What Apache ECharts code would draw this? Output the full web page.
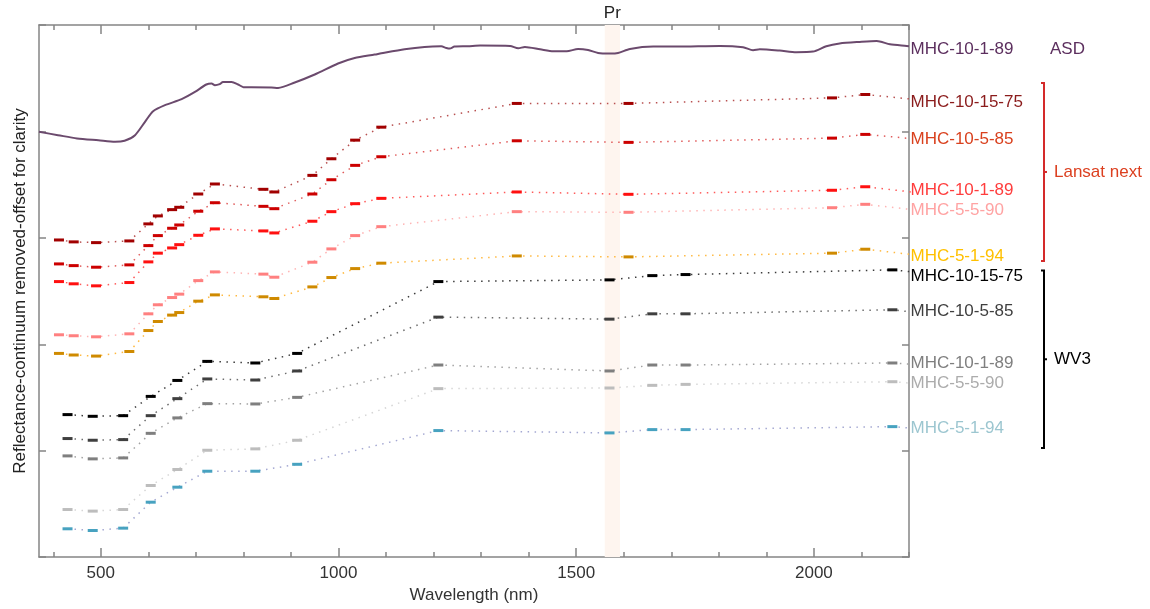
<!DOCTYPE html>
<html>
<head>
<meta charset="utf-8">
<script src="https://cdn.jsdelivr.net/npm/echarts@6/dist/echarts.min.js"></script>
<style>
  html, body { margin: 0; padding: 0; background: #fff; }
  #chart { width: 1150px; height: 609px; }
</style>
</head>
<body>
<div id="chart"></div>
<script>
// ---- data -------------------------------------------------------------
// ASD full-resolution spectrum (MHC-10-1-89), offset for clarity
const asdWavelength = [370, 410, 450, 495, 530, 550, 572, 593, 610, 635, 670, 698, 722, 733, 740, 750, 757, 775, 789, 800,
  817, 859, 873, 908, 950, 999, 1034, 1076, 1090, 1139, 1181, 1216, 1227, 1234, 1244, 1272, 1298, 1361, 1378, 1392,
  1424, 1452, 1480, 1504, 1525, 1546, 1571, 1588, 1613, 1662, 1711, 1802, 1851, 1872, 1886, 1928, 1963, 1998, 2026, 2054,
  2096, 2132, 2160, 2195, 2200];
const asdReflectance = [3.996, 3.965, 3.934, 3.916, 3.902, 3.912, 3.965, 4.090, 4.190, 4.247, 4.303, 4.371, 4.441, 4.450, 4.434, 4.444, 4.465, 4.465, 4.441, 4.416,
  4.416, 4.413, 4.409, 4.460, 4.535, 4.638, 4.690, 4.722, 4.734, 4.772, 4.794, 4.800, 4.784, 4.779, 4.797, 4.800, 4.807, 4.803, 4.781, 4.794,
  4.772, 4.753, 4.753, 4.775, 4.765, 4.737, 4.732, 4.737, 4.775, 4.797, 4.797, 4.803, 4.791, 4.763, 4.772, 4.760, 4.744, 4.750, 4.800, 4.826,
  4.841, 4.850, 4.819, 4.803, 4.800];

// Band centres (nm)
const landsatBands = [412, 443, 490, 560, 600, 620, 650, 665, 705, 740, 842, 865, 945, 985, 1035, 1090, 1375, 1610, 2038, 2108, 2211];
const wv3Bands = [430, 483, 547, 605, 661, 724, 825, 913, 1210, 1570, 1660, 1730, 2165, 2205];

const sampleNames = ['MHC-10-15-75', 'MHC-10-5-85', 'MHC-10-1-89', 'MHC-5-5-90', 'MHC-5-1-94'];

// Landsat Next simulated reflectance (continuum removed, offset)
const landsat_10_15_75 = [2.980, 2.962, 2.955, 2.971, 3.131, 3.206, 3.265, 3.287, 3.412, 3.506, 3.456, 3.431, 3.587, 3.743, 3.918, 4.040, 4.263, 4.263, 4.315, 4.347, 4.301];
const landsat_10_5_85 = [2.755, 2.739, 2.724, 2.746, 2.927, 3.021, 3.090, 3.121, 3.250, 3.330, 3.296, 3.274, 3.412, 3.546, 3.681, 3.762, 3.912, 3.897, 3.937, 3.972, 3.930];
const landsat_10_1_89 = [2.589, 2.568, 2.549, 2.580, 2.774, 2.856, 2.905, 2.936, 3.024, 3.084, 3.065, 3.046, 3.156, 3.246, 3.321, 3.371, 3.431, 3.409, 3.447, 3.480, 3.428];
const landsat_5_5_90 = [2.089, 2.080, 2.070, 2.098, 2.286, 2.371, 2.439, 2.471, 2.598, 2.680, 2.659, 2.630, 2.771, 2.896, 3.021, 3.105, 3.246, 3.240, 3.283, 3.315, 3.263];
const landsat_5_1_94 = [1.914, 1.899, 1.889, 1.932, 2.129, 2.214, 2.274, 2.298, 2.405, 2.464, 2.446, 2.430, 2.539, 2.627, 2.711, 2.762, 2.830, 2.821, 2.856, 2.893, 2.841];

// WorldView-3 simulated reflectance (continuum removed, offset)
const wv3_10_15_75 = [1.339, 1.323, 1.329, 1.510, 1.660, 1.839, 1.824, 1.914, 2.589, 2.605, 2.645, 2.655, 2.699, 2.681];
const wv3_10_5_85 = [1.114, 1.098, 1.104, 1.329, 1.489, 1.674, 1.664, 1.749, 2.255, 2.236, 2.286, 2.286, 2.324, 2.303];
const wv3_10_1_89 = [0.951, 0.923, 0.932, 1.163, 1.308, 1.442, 1.439, 1.501, 1.805, 1.749, 1.805, 1.805, 1.824, 1.813];
const wv3_5_5_90 = [0.447, 0.432, 0.447, 0.673, 0.823, 1.004, 1.017, 1.098, 1.583, 1.589, 1.614, 1.623, 1.648, 1.634];
const wv3_5_1_94 = [0.266, 0.250, 0.272, 0.516, 0.657, 0.807, 0.807, 0.872, 1.189, 1.167, 1.198, 1.198, 1.226, 1.212];

// Right-hand label heights (axis units)
const asdLabelY = 4.769;
const landsatLabelY = [4.272, 3.925, 3.449, 3.262, 2.830];
const wv3LabelY = [2.636, 2.314, 1.824, 1.636, 1.214];

// Axis settings
const xMin = 370, xMax = 2200;
const majorTicks = [500, 1000, 1500, 2000];
const minorTicks = [400, 500, 600, 700, 800, 900, 1000, 1100, 1200, 1300, 1400, 1500, 1600, 1700, 1800, 1900, 2000, 2100, 2200];
const prBand = [1560, 1592];

// ---- styles -----------------------------------------------------------
const FONT = '"Liberation Sans", Arial, Helvetica, sans-serif';
const axisGrey = { color: '#858585', width: 1.5 };

const landsatStyle = [
  { mark: '#a10000', dot: '#b85050', label: '#8b1c1c' },
  { mark: '#cc0000', dot: '#e05a5a', label: '#d9411e' },
  { mark: '#ff1010', dot: '#ff5a5a', label: '#ff3d3d' },
  { mark: '#ff8080', dot: '#ffb4b4', label: '#ffa3a3' },
  { mark: '#cf8a00', dot: '#ffb940', label: '#ffc000' }
];
const wv3Style = [
  { mark: '#000000', dot: '#3c3c3c', label: '#000000' },
  { mark: '#3f3f3f', dot: '#6e6e6e', label: '#3f3f3f' },
  { mark: '#7f7f7f', dot: '#a2a2a2', label: '#7f7f7f' },
  { mark: '#bdbdbd', dot: '#d6d6d6', label: '#acacac' },
  { mark: '#47a2c0', dot: '#a4a8d2', label: '#9cc6d0' }
];

const landsatValues = [landsat_10_15_75, landsat_10_5_85, landsat_10_1_89, landsat_5_5_90, landsat_5_1_94];
const wv3Values = [wv3_10_15_75, wv3_10_5_85, wv3_10_1_89, wv3_5_5_90, wv3_5_1_94];

function bandSeries(id, bands, values, st) {
  return {
    id: id,
    type: 'line',
    data: bands.map((b, i) => [b, values[i]]),
    symbol: 'rect',
    symbolSize: [10, 3],
    showSymbol: true,
    clip: true,
    z: 4,
    itemStyle: { color: st.mark },
    lineStyle: { color: st.dot, width: 1.5, type: [1.5, 5.5], cap: 'butt' },
    emphasis: { disabled: true }
  };
}

const series = [
  {
    id: 'asd',
    type: 'line',
    data: asdWavelength.map((w, i) => [w, asdReflectance[i]]),
    showSymbol: false,
    smooth: 0.25,
    clip: true,
    z: 3,
    lineStyle: { color: '#6b4a6d', width: 2 },
    emphasis: { disabled: true },
    markArea: {
      silent: true,
      z: 1,
      itemStyle: { color: '#fef5ef', opacity: 1 },
      label: { show: true, position: 'top', distance: 3, formatter: 'Pr', fontSize: 17, color: '#222', fontFamily: FONT },
      data: [[{ xAxis: prBand[0] }, { xAxis: prBand[1] }]]
    }
  }
];
landsatValues.forEach((v, i) => series.push(bandSeries('landsat' + i, landsatBands, v, landsatStyle[i])));
wv3Values.forEach((v, i) => series.push(bandSeries('wv3' + i, wv3Bands, v, wv3Style[i])));

function xAxisDef(position, ticks, tickLen, withLine, withLabel) {
  return {
    type: 'value', min: xMin, max: xMax, position: position,
    axisLine: { show: withLine, onZero: false, lineStyle: axisGrey },
    axisTick: { show: true, inside: true, length: tickLen, customValues: ticks, lineStyle: axisGrey },
    axisLabel: withLabel
      ? { show: true, customValues: majorTicks, formatter: (v) => String(v), fontSize: 17, color: '#333', margin: 8, fontFamily: FONT }
      : { show: false },
    splitLine: { show: false }
  };
}

const xAxes = [
  Object.assign(xAxisDef('bottom', majorTicks, 9, true, true), {
    name: 'Wavelength (nm)', nameLocation: 'middle', nameGap: 27,
    nameTextStyle: { fontSize: 17, color: '#333', fontFamily: FONT }
  }),
  xAxisDef('bottom', minorTicks, 5, false, false),
  xAxisDef('top', majorTicks, 9, true, false),
  xAxisDef('top', minorTicks, 5, false, false)
];

function yAxisDef(position) {
  return {
    type: 'value', min: 0, max: 5, interval: 1, position: position,
    axisLine: { show: true, onZero: false, lineStyle: axisGrey },
    axisTick: { show: true, inside: true, length: 7, lineStyle: axisGrey },
    axisLabel: { show: false },
    splitLine: { show: false }
  };
}

const chart = echarts.init(document.getElementById('chart'), null, { renderer: 'canvas' });
chart.setOption({
  animation: false,
  backgroundColor: '#ffffff',
  textStyle: { fontFamily: FONT },
  grid: { left: 39, right: 241, top: 25, bottom: 51, containLabel: false },
  xAxis: xAxes,
  yAxis: [yAxisDef('left'), yAxisDef('right')],
  series: series
});

// ---- annotations: sample labels, group brackets, axis title ------------
const toPx = (x, y) => chart.convertToPixel({ xAxisIndex: 0, yAxisIndex: 0 }, [x, y]);
const labelX = toPx(xMax, 0)[0] + 1.5;
const textEl = (text, x, y, color, extra) => Object.assign({
  type: 'text', x: x, y: y, silent: true,
  style: { text: text, fill: color, font: '17px ' + FONT, align: 'left', verticalAlign: 'middle' }
}, extra || {});

const graphics = [];
graphics.push(textEl('MHC-10-1-89', labelX, toPx(xMax, asdLabelY)[1], '#5c2f5e'));
graphics.push(textEl('ASD', 1050, toPx(xMax, asdLabelY)[1], '#5c2f5e'));
sampleNames.forEach((n, i) => {
  graphics.push(textEl(n, labelX, toPx(xMax, landsatLabelY[i])[1], landsatStyle[i].label));
  graphics.push(textEl(n, labelX, toPx(xMax, wv3LabelY[i])[1], wv3Style[i].label));
});

function bracket(yTop, yBottom, color, text, textColor) {
  const bx = 1044;
  const t = toPx(xMax, yTop)[1], b = toPx(xMax, yBottom)[1], m = (t + b) / 2;
  const ls = { stroke: color, lineWidth: 2 };
  graphics.push({ type: 'polyline', silent: true, shape: { points: [[bx - 3, t], [bx, t], [bx, b], [bx - 3, b]] }, style: ls });
  graphics.push({ type: 'line', silent: true, shape: { x1: bx, y1: m, x2: bx + 3, y2: m }, style: ls });
  graphics.push(textEl(text, bx + 10, m, textColor));
}
bracket(4.455, 2.783, '#d42a2a', 'Lansat next', '#dc4020');
bracket(2.692, 1.026, '#000000', 'WV3', '#000000');

graphics.push({
  type: 'text', silent: true, x: 20, y: 291, rotation: Math.PI / 2,
  style: { text: 'Reflectance-continuum removed-offset for clarity', fill: '#222', font: '17px ' + FONT, align: 'center', verticalAlign: 'middle' }
});

chart.setOption({ graphic: graphics });
</script>
</body>
</html>
